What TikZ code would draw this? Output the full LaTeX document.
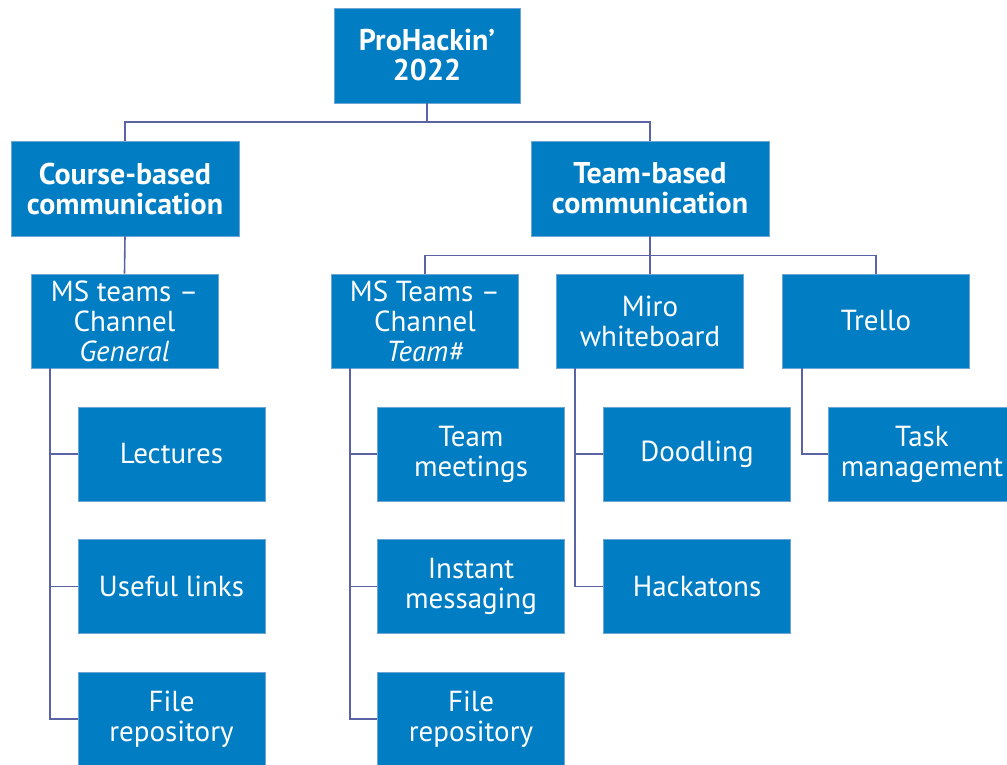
\documentclass[tikz,border=0pt]{standalone}
\usepackage{fontspec}
\setmainfont{PT Sans}
\usetikzlibrary{positioning}
\definecolor{boxblue}{RGB}{0,125,195}
\definecolor{boxedge}{RGB}{110,165,215}
\definecolor{linkblue}{RGB}{90,100,165}
\tikzset{
  box/.style={draw=boxedge,line width=0.6pt,fill=boxblue,text=white,align=center,
    minimum width=187pt,minimum height=94pt,inner sep=0pt,
    font=\fontsize{29}{30}\selectfont},
  head/.style={box,font=\fontsize{30}{30}\selectfont\bfseries},
  link/.style={draw=linkblue,line width=1.6pt}
}
\begin{document}
\begin{tikzpicture}[x=1pt,y=-1pt]
\useasboundingbox (0,0) rectangle (1007,765);
\node[head,minimum width=186pt,minimum height=95pt] (root) at (427,55.5) {ProHackin’\\2022};
\node[head,minimum width=228pt,minimum height=95pt] (course) at (125,188.5) {Course-based\\communication};
\node[head,minimum width=238pt,minimum height=95pt] (team) at (650,188.5) {Team-based\\communication};

\node[box] (msgen) at (124.5,321) {MS teams –\\Channel\\\textit{General}};
\node[box] (msteam) at (425,321) {MS Teams –\\Channel\\\textit{Team\#}};
\node[box] (miro) at (650,321) {Miro\\whiteboard};
\node[box] (trello) at (876,321) {Trello};

\node[box] (lectures) at (171.5,454) {Lectures};
\node[box] (links) at (171.5,586.5) {Useful links};
\node[box] (repo1) at (171.5,719) {File\\repository};
\node[box] (meetings) at (471,454) {Team\\meetings};
\node[box] (instant) at (471,586.5) {Instant\\messaging};
\node[box] (repo2) at (471,719) {File\\repository};
\node[box] (doodling) at (697,454) {Doodling};
\node[box] (hackatons) at (697,586.5) {Hackatons};
\node[box] (task) at (922,454) {Task\\management};

\draw[link] (root.south) -- ++(0,19) -| (course.north);
\draw[link] (root.south) -- ++(0,19) -| (team.north);
\draw[link] (course.south) -- (msgen.north);
\draw[link] (team.south) -- ++(0,19) -| (msteam.north);
\draw[link] (team.south) -- (miro.north);
\draw[link] (team.south) -- ++(0,19) -| (trello.north);

\draw[link] ([xshift=19pt]msgen.south west) |- (lectures.west);
\draw[link] ([xshift=19pt]msgen.south west) |- (links.west);
\draw[link] ([xshift=19pt]msgen.south west) |- (repo1.west);
\draw[link] ([xshift=19pt]msteam.south west) |- (meetings.west);
\draw[link] ([xshift=19pt]msteam.south west) |- (instant.west);
\draw[link] ([xshift=19pt]msteam.south west) |- (repo2.west);
\draw[link] ([xshift=19pt]miro.south west) |- (doodling.west);
\draw[link] ([xshift=19pt]miro.south west) |- (hackatons.west);
\draw[link] ([xshift=20pt]trello.south west) |- (task.west);
\end{tikzpicture}
\end{document}
